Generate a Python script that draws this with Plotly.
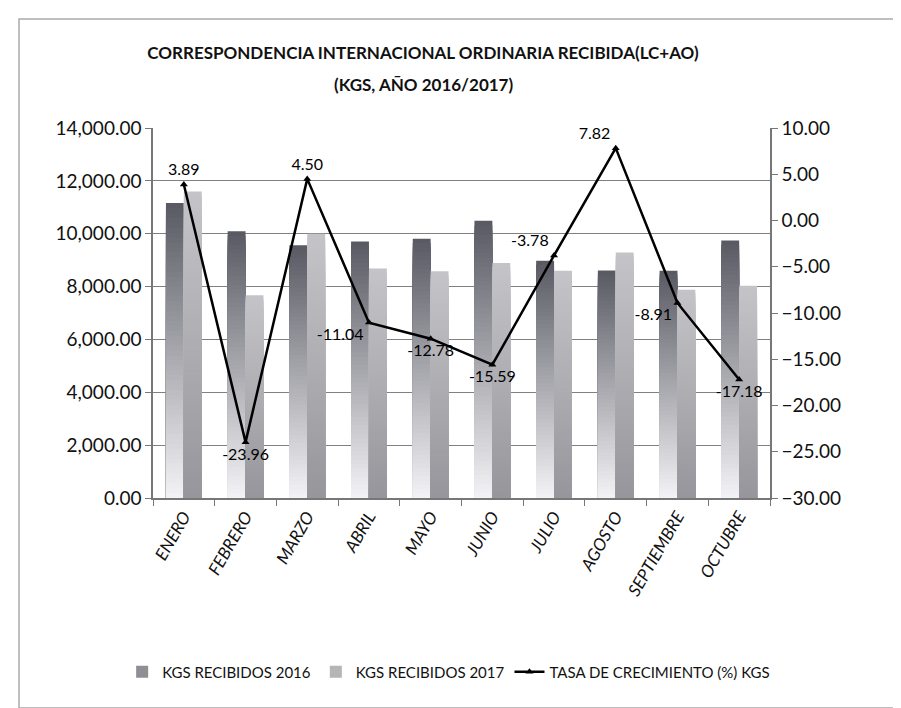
import plotly.graph_objects as go

# ── data ───────────────────────────────────────────────────────────────
meses = ["ENERO", "FEBRERO", "MARZO", "ABRIL", "MAYO",
         "JUNIO", "JULIO", "AGOSTO", "SEPTIEMBRE", "OCTUBRE"]
kgs_2016 = [11160, 10090, 9560, 9710, 9810, 10490, 8980, 8610, 8600, 9740]
kgs_2017 = [11600, 7670, 10000, 8680, 8580, 8890, 8600, 9290, 7880, 8030]
tasa = [3.89, -23.96, 4.50, -11.04, -12.78, -15.59, -3.78, 7.82, -8.91, -17.18]
tasa_pos = ["top center", "bottom center", "top center", "bottom left", "bottom center",
            "bottom center", "top left", "top left", "bottom left", "bottom center"]

FONT = "Lato, Roboto, sans-serif"
N_STEPS = 60  # layers used to fake Excel's vertical gradient fill


def mix(c_top, c_bot, t):
    r, g, b = (round(c_top[i] + (c_bot[i] - c_top[i]) * t) for i in range(3))
    return f"rgb({r},{g},{b})"


fig = go.Figure()

# ── 1) gradient bars: nested bars, tallest (top colour) first ─────────
series = [
    ("KGS RECIBIDOS 2016", kgs_2016, "g16", (90, 90, 100), (242, 242, 245)),
    ("KGS RECIBIDOS 2017", kgs_2017, "g17", (196, 196, 200), (150, 150, 156)),
]
for name, vals, grp, c_top, c_bot in series:
    for j in range(N_STEPS):
        frac = (N_STEPS - j) / N_STEPS
        fig.add_trace(go.Bar(
            x=meses,
            y=[v * frac for v in vals],
            name=name,
            offsetgroup=grp,
            legendgroup=grp,
            showlegend=(j == N_STEPS // 3),
            marker=dict(color=mix(c_top, c_bot, j / (N_STEPS - 1)), line_width=0),
            hoverinfo="skip" if j else None,
        ))

# ── 2) growth rate line on the right axis ──────────────────────────────
fig.add_trace(go.Scatter(
    x=meses,
    y=tasa,
    name="TASA DE CRECIMIENTO (%) KGS",
    yaxis="y2",
    mode="lines+markers+text",
    line=dict(color="black", width=2.5),
    marker=dict(symbol="triangle-up", size=7, color="black"),
    text=[f"{v:.2f}" for v in tasa],
    textposition=tasa_pos,
    textfont=dict(size=16, color="black", family=FONT),
))

# ── 3) layout ──────────────────────────────────────────────────────────
fig.update_layout(
    width=901, height=708,
    margin=dict(l=145, r=139, t=120, b=218),
    paper_bgcolor="white",
    plot_bgcolor="white",
    font=dict(family=FONT, size=16, color="#111"),
    barmode="group",
    bargap=0.42,
    bargroupgap=0,
    title=dict(
        text="CORRESPONDENCIA INTERNACIONAL ORDINARIA RECIBIDA(LC+AO)",
        x=415 / 901, xanchor="center", xref="container",
        y=1 - 45 / 708, yanchor="middle", yref="container",
        font=dict(size=17, family=FONT, weight="bold", color="#111"),
    ),
    xaxis=dict(
        range=[-0.5, len(meses) - 0.5],
        tickangle=-60,
        tickfont=dict(size=17, style="italic"),
        showline=True, linecolor="#777", linewidth=1.5,
        ticks="outside", tickson="boundaries", ticklen=6, tickcolor="#777",
        showgrid=False,
    ),
    yaxis=dict(
        range=[0, 14000], dtick=2000, tickformat=",.2f",
        showline=True, linecolor="#777", linewidth=1.5,
        ticks="outside", ticklen=6, tickcolor="#777",
        gridcolor="#808080", gridwidth=1, zeroline=False,
        tickfont=dict(size=19),
    ),
    yaxis2=dict(
        overlaying="y", side="right",
        range=[-30, 10], dtick=5, tickformat=".2f",
        showline=True, linecolor="#777", linewidth=1.5,
        ticks="outside", ticklen=6, tickcolor="#777",
        showgrid=False, zeroline=False,
        tickfont=dict(size=19),
    ),
    legend=dict(
        orientation="h", x=-0.05, xanchor="left", y=-0.47, yanchor="middle",
        font=dict(size=15), traceorder="normal",
    ),
    annotations=[dict(
        text="<b>(KGS, AÑO 2016/2017)</b>",
        xref="paper", yref="paper",
        x=(415 - 145) / 617, y=(490 - 76) / 370,
        xanchor="center", yanchor="middle", showarrow=False,
        font=dict(size=17, family=FONT, color="#111"),
    )],
    shapes=[dict(
        type="rect", xref="paper", yref="paper",
        x0=(11 - 145) / 617, x1=(888 - 145) / 617,
        y0=(490 - 700) / 370, y1=(490 - 11) / 370,
        line=dict(color="#aaa", width=1.5), layer="below",
    )],
)

fig.write_html("out.html")
